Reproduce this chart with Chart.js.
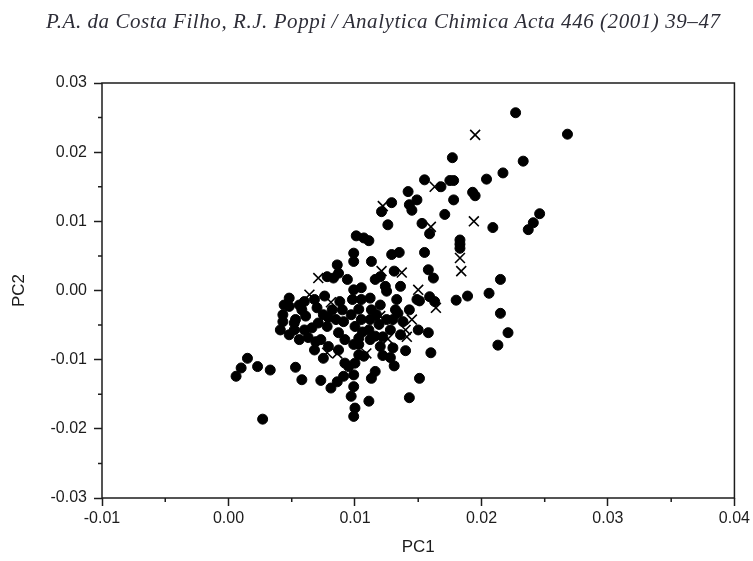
<!DOCTYPE html>
<html>
<head>
<meta charset="utf-8">
<script src="https://cdn.jsdelivr.net/npm/chart.js@4"></script>
<style>
  html, body { margin: 0; padding: 0; background: #fff; }
  #wrap { position: relative; width: 753px; height: 561px; }
  #plot { position: absolute; left: 0; top: 0; }
  #header {
    position: absolute; left: 46px; top: 9px; white-space: nowrap;
    font: italic 21px "Liberation Serif", "Times New Roman", serif; color: #2e2e38;
  }
</style>
</head>
<body>
<div id="wrap">
  <canvas id="plot" width="753" height="561"></canvas>
  <div id="header">P.A. da Costa Filho, R.J. Poppi&thinsp;/&thinsp;Analytica Chimica Acta 446 (2001) 39–47</div>
</div>
<script>
// scores, filled circles
const pc1Filled = [
  0.0227, 0.0268, 0.0177, 0.0233, 0.0217, 0.0204, 0.0155, 0.0175, 0.0178, 0.0168,
  0.0142, 0.0149, 0.0193, 0.0195, 0.0178, 0.0129, 0.0121, 0.0143, 0.0145, 0.0171,
  0.0246, 0.0241, 0.0237, 0.0209, 0.0126, 0.0153, 0.0159, 0.0101, 0.0107, 0.0111,
  0.0183, 0.0183, 0.0183, 0.0155, 0.0129, 0.0135, 0.0099, 0.0099, 0.0113, 0.0086,
  0.0131, 0.0158, 0.0162, 0.0215, 0.0116, 0.0120, 0.0078, 0.0083, 0.0087, 0.0094,
  0.0099, 0.0105, 0.0112, 0.0124, 0.0125, 0.0136, 0.0149, 0.0151, 0.0159, 0.0163,
  0.0206, 0.0180, 0.0189, 0.0215, 0.0221, 0.0213, 0.0120, 0.0132, 0.0134, 0.0150,
  0.0158, 0.0136, 0.0120, 0.0116, 0.0140, 0.0160, 0.0131, 0.0116, 0.0113, 0.0151,
  0.0099, 0.0143, 0.0111, 0.0099, 0.0097, 0.0100, 0.0099, 0.0015, 0.0010, 0.0006,
  0.0023, 0.0033, 0.0053, 0.0058, 0.0073, 0.0081, 0.0086, 0.0091, 0.0095, 0.0100,
  0.0027, 0.0075, 0.0103, 0.0107, 0.0112, 0.0103, 0.0048, 0.0048, 0.0060, 0.0070,
  0.0076, 0.0088, 0.0098, 0.0105, 0.0043, 0.0043, 0.0041, 0.0053, 0.0061, 0.0066,
  0.0052, 0.0063, 0.0069, 0.0079, 0.0092, 0.0071, 0.0078, 0.0085, 0.0090, 0.0087,
  0.0092, 0.0100, 0.0105, 0.0111, 0.0113, 0.0056, 0.0048, 0.0082, 0.0075, 0.0125,
  0.0128, 0.0122, 0.0130, 0.0138, 0.0097, 0.0103, 0.0119, 0.0058, 0.0143,
  0.0056, 0.0068, 0.0079, 0.0091, 0.0112, 0.0130, 0.0122, 0.0099, 0.0087, 0.0073,
  0.0060, 0.0052, 0.0044, 0.0068, 0.0106, 0.0117, 0.0133, 0.0103, 0.0128
];
const pc2Filled = [
  0.0257, 0.0226, 0.0192, 0.0187, 0.0170, 0.0161, 0.0160, 0.0159, 0.0159, 0.0150,
  0.0143, 0.0131, 0.0142, 0.0137, 0.0131, 0.0127, 0.0114, 0.0124, 0.0116, 0.0110,
  0.0111, 0.0098, 0.0088, 0.0091, 0.0095, 0.0097, 0.0082, 0.0079, 0.0076, 0.0072,
  0.0073, 0.0067, 0.0061, 0.0055, 0.0052, 0.0055, 0.0054, 0.0042, 0.0042, 0.0037,
  0.0028, 0.0030, 0.0018, 0.0016, 0.0016, 0.0020, 0.0020, 0.0018, 0.0025, 0.0016,
  0.0001, 0.0004, -0.0011, 0.0006, -0.0001, 0.0006, -0.0013, -0.0015, -0.0009, -0.0016,
  -0.0004, -0.0014, -0.0008, -0.0033, -0.0061, -0.0079, -0.0021, -0.0028, -0.0033, -0.0057,
  -0.0061, -0.0064, -0.0081, -0.0066, -0.0087, -0.0090, -0.0109, -0.0117, -0.0127, -0.0127,
  -0.0122, -0.0155, -0.0160, -0.0139, -0.0153, -0.0170, -0.0182, -0.0098, -0.0112, -0.0124,
  -0.0110, -0.0115, -0.0111, -0.0129, -0.0130, -0.0141, -0.0132, -0.0124, -0.0110, -0.0105,
  -0.0186, -0.0098, -0.0078, -0.0095, -0.0071, -0.0069, -0.0011, -0.0023, -0.0016, -0.0025,
  -0.0008, -0.0016, -0.0013, -0.0013, -0.0035, -0.0045, -0.0057, -0.0042, -0.0037, -0.0054,
  -0.0047, -0.0068, -0.0074, -0.0081, -0.0105, -0.0047, -0.0052, -0.0042, -0.0028, -0.0061,
  -0.0071, -0.0052, -0.0042, -0.0057, -0.0028, -0.0071, -0.0064, -0.0028, -0.0035, -0.0042,
  -0.0057, -0.0094, -0.0083, -0.0045, -0.0035, -0.0027, -0.0049, -0.0028, -0.0028,
  -0.0021, -0.0013, -0.0039, -0.0045, -0.0042, -0.0042, -0.0067, -0.0078, -0.0086, -0.0071,
  -0.0057, -0.0057, -0.0021, -0.0086, -0.0060, -0.0035, -0.0013, -0.0093, -0.0097
];

// scores, crosses
const pc1Cross = [
  0.0195, 0.0163, 0.0194, 0.0160, 0.0122, 0.0183, 0.0184, 0.0121, 0.0137, 0.0150,
  0.0164, 0.0071, 0.0064, 0.0081, 0.0145, 0.0120, 0.0140, 0.0141, 0.0126, 0.0078,
  0.0086, 0.0109
];
const pc2Cross = [
  0.0225, 0.0150, 0.0100, 0.0092, 0.0122, 0.0047, 0.0028, 0.0028, 0.0026, 0.0001,
  -0.0025, 0.0018, -0.0006, -0.0017, -0.0042, -0.0037, -0.0057, -0.0067, -0.0070, -0.0090,
  -0.0091, -0.0091
];

const xTickValues = [-0.01, 0.00, 0.01, 0.02, 0.03, 0.04];
const yTickValues = [-0.03, -0.02, -0.01, 0.00, 0.01, 0.02, 0.03];

const ink = '#1c1c1c';
const dot = '#000';
const sans = '"Liberation Sans", Arial, Helvetica, sans-serif';

// stretch the running header to the full line width
const header = document.getElementById('header');
const hw = header.getBoundingClientRect().width;
header.style.letterSpacing = ((674 - hw) / (header.textContent.length - 1)) + 'px';

const toPoints = (xs, ys) => xs.map((x, i) => ({ x: x, y: ys[i] }));
const midpoints = vals => vals.slice(1).map((v, i) => (v + vals[i]) / 2);
const fixedTicks = vals => scale => { scale.ticks = vals.map(v => ({ value: v })); };

// box around the plot plus the short minor ticks
const frame = {
  id: 'frame',
  afterDraw(chart) {
    const { ctx, chartArea: a, scales: { x, y } } = chart;
    ctx.save();
    ctx.strokeStyle = ink;
    ctx.lineWidth = 1.5;
    ctx.strokeRect(a.left, a.top, a.right - a.left, a.bottom - a.top);
    ctx.beginPath();
    midpoints(xTickValues).forEach(v => {
      const px = x.getPixelForValue(v);
      ctx.moveTo(px, a.bottom);
      ctx.lineTo(px, a.bottom + 4);
    });
    midpoints(yTickValues).forEach(v => {
      const py = y.getPixelForValue(v);
      ctx.moveTo(a.left, py);
      ctx.lineTo(a.left - 4, py);
    });
    ctx.stroke();
    ctx.restore();
  }
};

const axisGrid = {
  drawOnChartArea: false,
  drawTicks: true,
  tickLength: 8,
  tickWidth: 1.5,
  tickColor: ink
};

new Chart(document.getElementById('plot'), {
  type: 'scatter',
  data: {
    datasets: [{
      label: 'crosses',
      data: toPoints(pc1Cross, pc2Cross),
      pointStyle: 'crossRot',
      pointRadius: 7,
      borderWidth: 1.6,
      borderColor: dot,
      backgroundColor: dot
    }, {
      label: 'filled',
      data: toPoints(pc1Filled, pc2Filled),
      pointStyle: 'circle',
      pointRadius: 5,
      borderWidth: 1,
      borderColor: dot,
      backgroundColor: dot
    }]
  },
  options: {
    responsive: false,
    animation: false,
    devicePixelRatio: 1,
    layout: { padding: { top: 83, right: 15, bottom: 0, left: 0 } },
    plugins: { legend: { display: false }, tooltip: { enabled: false } },
    scales: {
      x: {
        type: 'linear',
        min: -0.01,
        max: 0.04,
        afterBuildTicks: fixedTicks(xTickValues),
        afterFit: s => { s.height = 63; },
        grid: axisGrid,
        border: { display: false },
        ticks: {
          color: ink, font: { family: sans, size: 16 }, padding: 3, maxRotation: 0,
          callback: v => v.toFixed(2)
        },
        title: {
          display: true, text: 'PC1', color: ink,
          font: { family: sans, size: 17 }, padding: { top: 0, bottom: 3 }
        }
      },
      y: {
        type: 'linear',
        min: -0.03,
        max: 0.03,
        afterBuildTicks: fixedTicks(yTickValues),
        afterFit: s => { s.width = 102; },
        grid: axisGrid,
        border: { display: false },
        ticks: {
          color: ink, font: { family: sans, size: 16 }, padding: 7,
          callback: v => v.toFixed(2)
        },
        title: {
          display: true, text: 'PC2', color: ink,
          font: { family: sans, size: 17 }, padding: { top: 9, bottom: 0 }
        }
      }
    }
  },
  plugins: [frame]
});
</script>
</body>
</html>
